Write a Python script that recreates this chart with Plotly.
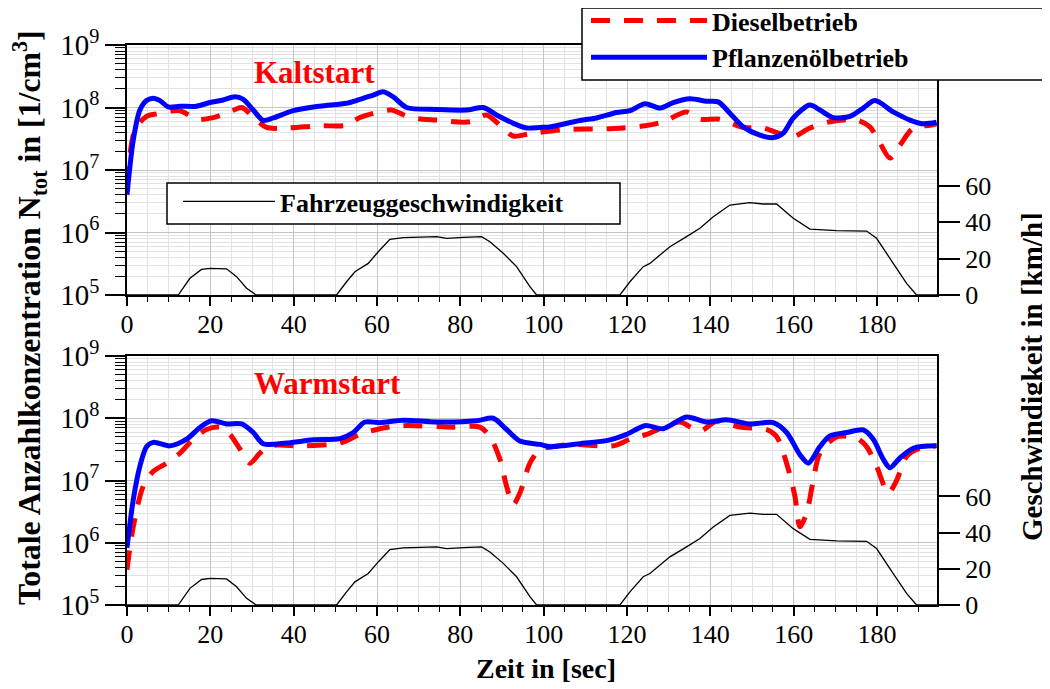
import plotly.graph_objects as go

# ---------------- data ----------------
# Kaltstart (cold start)
t_kalt_pfl = [0, 1.5, 3.1, 4.7, 6.3, 7.9, 9.9, 12.7, 16.7, 19.9, 23.1, 25.9, 27.9, 30.3, 32.7, 35.1,
              39.9, 46.3, 52.7, 55.9, 59.1, 61.5, 63.9, 67.1, 74.3, 81.5, 85.5, 88.7, 92.7, 95.9,
              99.1, 101.5, 108.7, 112.7, 117.5, 120.7, 124.3, 127.9, 131.1, 135.1, 139.1, 141.9,
              144.7, 147.9, 151.9, 155.1, 157.5, 159.9, 163.9, 166.3, 169.5, 173.5, 176.7, 179.5,
              183.9, 187.9, 191.1, 194.3]
n_kalt_pfl = [4.0e6, 3.0e7, 9.1e7, 1.29e8, 1.41e8, 1.29e8, 1.02e8, 1.05e8, 1.05e8, 1.2e8, 1.32e8,
              1.48e8, 1.35e8, 9.1e7, 6.2e7, 6.8e7, 8.9e7, 1.05e8, 1.17e8, 1.35e8, 1.58e8, 1.78e8,
              1.48e8, 1.0e8, 9.3e7, 9.1e7, 1.0e8, 7.6e7, 5.6e7, 4.7e7, 4.8e7, 4.9e7, 6.2e7, 6.8e7,
              8.3e7, 8.9e7, 1.15e8, 9.8e7, 1.2e8, 1.38e8, 1.26e8, 1.23e8, 8.1e7, 4.9e7, 3.6e7,
              3.3e7, 3.9e7, 6.8e7, 1.1e8, 9.1e7, 6.9e7, 7.2e7, 9.8e7, 1.29e8, 8.5e7, 6.3e7,
              5.5e7, 5.8e7]

t_kalt_dsl = [0, 1.9, 4.7, 7.1, 12.7, 16.7, 20.7, 24.7, 27.5, 30.3, 33.5, 38.3, 46.3, 52.7, 55.9,
              59.9, 63.5, 67.9, 74.3, 82.3, 86.3, 89.5, 92.7, 96.7, 104.7, 116.7, 124.3, 128.7,
              134.3, 137.5, 142.3, 147.9, 152.7, 156.7, 159.9, 163.9, 168.7, 175.1, 178.3, 180.7,
              183.1, 185.5, 188.7, 192.7, 194.3]
n_kalt_dsl = [5.6e6, 4.4e7, 7.2e7, 7.9e7, 8.9e7, 6.5e7, 6.9e7, 8.5e7, 1.0e8, 7.1e7, 4.8e7, 4.7e7,
              5.1e7, 5.2e7, 6.9e7, 8.3e7, 9.1e7, 6.9e7, 6.3e7, 5.9e7, 7.6e7, 5.2e7, 3.5e7, 3.8e7,
              4.4e7, 4.6e7, 5.1e7, 5.9e7, 8.5e7, 6.5e7, 6.5e7, 4.8e7, 4.7e7, 3.8e7, 3.4e7, 4.7e7,
              5.9e7, 6.3e7, 4.9e7, 2.7e7, 1.55e7, 2.5e7, 4.7e7, 5.2e7, 5.5e7]

# Warmstart (warm start)
t_warm_pfl = [0, 1.5, 3.1, 4.7, 6.3, 10.3, 14.3, 17.5, 20.3, 23.9, 27.5, 30.3, 32.7, 38.3, 44.7,
              51.1, 54.3, 57.1, 60.7, 66.3, 74.3, 83.9, 87.9, 91.1, 94.3, 99.1, 101.5, 108.7,
              115.9, 119.9, 124.3, 128.7, 134.3, 139.1, 143.9, 149.5, 155.1, 158.3, 161.5, 163.5,
              166.3, 168.7, 172.7, 176.7, 179.1, 181.5, 183.1, 185.5, 188.7, 194.3]
n_warm_pfl = [8.3e5, 4.9e6, 1.7e7, 3.5e7, 4.1e7, 3.6e7, 4.6e7, 7.1e7, 9.1e7, 8.1e7, 8.1e7, 5.9e7,
              3.9e7, 4.0e7, 4.5e7, 4.7e7, 5.9e7, 8.7e7, 8.5e7, 9.3e7, 8.7e7, 9.1e7, 1.0e8, 6.6e7,
              4.3e7, 3.8e7, 3.5e7, 3.9e7, 4.5e7, 5.5e7, 7.6e7, 6.8e7, 1.05e8, 8.7e7, 9.5e7, 8.1e7,
              8.5e7, 5.9e7, 2.6e7, 1.9e7, 3.5e7, 5.2e7, 5.9e7, 6.5e7, 4.6e7, 2.2e7, 1.6e7, 2.3e7,
              3.3e7, 3.6e7]

t_warm_dsl = [0, 1.5, 3.9, 6.3, 9.5, 12.7, 15.9, 19.1, 22.3, 24.7, 27.1, 29.5, 31.9, 34.3, 42.3,
              51.1, 55.9, 60.7, 66.3, 78.3, 84.7, 87.1, 89.5, 91.1, 92.7, 94.3, 96.7, 99.1, 100,
              106.3, 116.7, 120.7, 124.7, 128.7, 132.7, 137.5, 141.5, 147.1, 153.5, 155.9, 158.3,
              160.3, 161.5, 163.1, 164.7, 166.3, 170.3, 175.1, 177.5, 179.9, 182.7, 184.7, 187.1,
              190.3, 194.3]
n_warm_dsl = [3.7e5, 1.8e6, 8.1e6, 1.4e7, 1.9e7, 2.75e7, 4.6e7, 6.6e7, 7.2e7, 5.5e7, 3.2e7, 1.9e7,
              2.75e7, 3.6e7, 3.6e7, 4.0e7, 5.5e7, 6.8e7, 7.6e7, 7.2e7, 7.2e7, 5.1e7, 2.2e7, 8.1e6,
              4.1e6, 6.3e6, 1.9e7, 3.2e7, 3.3e7, 3.8e7, 3.6e7, 4.6e7, 5.5e7, 7.2e7, 8.7e7, 6.2e7,
              8.9e7, 7.2e7, 6.6e7, 5.1e7, 1.9e7, 5.6e6, 1.8e6, 3.0e6, 1.0e7, 2.75e7, 5.0e7, 4.8e7,
              3.5e7, 1.7e7, 6.3e6, 1.0e7, 2.45e7, 3.3e7, 3.6e7]

# Vehicle speed (km/h)
t_speed = [0, 12.3, 15.1, 17.9, 20, 23.9, 26.3, 28.7, 31, 50.3, 52.7, 54.7, 57.9, 60.3, 63.1, 66.3,
           74.3, 76.7, 80.7, 85.1, 87.1, 90.3, 93.5, 96.7, 98.3, 118.3, 120.7, 123.9, 125.5,
           130.3, 134.3, 137.5, 140.7, 144.7, 149.5, 152.7, 155.9, 159.9, 163.9, 170.3, 177.5,
           179.9, 183.9, 187.1, 189.5, 194.4]
v_speed = [0, 0, 9.2, 14.1, 14.7, 14.4, 10.1, 3.7, 0, 0, 7.3, 12.8, 17.4, 23.8, 30.6, 31.6, 32.1,
           31.2, 31.7, 32.1, 29.3, 23, 15.6, 4.6, 0, 0, 7.3, 15.6, 17.4, 26.6, 32.1, 36.7, 43.1,
           49.5, 50.8, 50.1, 50.1, 42.2, 36.3, 35.4, 35.2, 31.2, 17.4, 6.4, 0, 0]

speed_ticks = [0, 20, 40, 60]
x_ticks = [0, 20, 40, 60, 80, 100, 120, 140, 160, 180]
y_tickvals = [1e5, 1e6, 1e7, 1e8, 1e9]
y_ticktext = ["10<sup>5</sup>", "10<sup>6</sup>", "10<sup>7</sup>", "10<sup>8</sup>", "10<sup>9</sup>"]

name_dsl = "Dieselbetrieb"
name_pfl = "Pflanzenölbetrieb"
name_speed = "Fahrzeuggeschwindigkeit"

# ---------------- figure ----------------
FONT = "Liberation Serif, Times New Roman, serif"
RED = "#ff0000"
BLUE = "#0000ff"
W, H = 1050, 689
OFF = 8  # page body margin
# plot area in page pixels: left 127, right 937, top 45, bottom 605
L, T = 127 - OFF, 45 - OFF
R, B = W - (937 - OFF), H - (605 - OFF)
PW, PH = W - L - R, H - T - B


def px_x(p):
    return (p - OFF - L) / PW


def px_y(p):
    return (H - B - (p - OFF)) / PH


def bold(s):
    return "<b>" + s + "</b>"


fig = go.Figure()

dash = "19px,14px"
# top panel
fig.add_trace(go.Scatter(x=t_speed, y=v_speed, xaxis="x", yaxis="y2", mode="lines",
                         line=dict(color="black", width=1.3), name=bold(name_speed),
                         legend="legend2", showlegend=True))
fig.add_trace(go.Scatter(x=t_kalt_dsl, y=n_kalt_dsl, xaxis="x", yaxis="y", mode="lines",
                         line=dict(color=RED, width=5, dash=dash, shape="spline", smoothing=0.8),
                         name=bold(name_dsl), legendgroup="a"))
fig.add_trace(go.Scatter(x=t_kalt_pfl, y=n_kalt_pfl, xaxis="x", yaxis="y", mode="lines",
                         line=dict(color=BLUE, width=5, shape="spline", smoothing=0.8),
                         name=bold(name_pfl), legendgroup="b"))
# bottom panel
fig.add_trace(go.Scatter(x=t_speed, y=v_speed, xaxis="x2", yaxis="y4", mode="lines",
                         line=dict(color="black", width=1.3), name=bold(name_speed),
                         legend="legend2", showlegend=False))
fig.add_trace(go.Scatter(x=t_warm_dsl, y=n_warm_dsl, xaxis="x2", yaxis="y3", mode="lines",
                         line=dict(color=RED, width=5, dash=dash, shape="spline", smoothing=0.8),
                         name=bold(name_dsl), showlegend=False))
fig.add_trace(go.Scatter(x=t_warm_pfl, y=n_warm_pfl, xaxis="x2", yaxis="y3", mode="lines",
                         line=dict(color=BLUE, width=5, shape="spline", smoothing=0.8),
                         name=bold(name_pfl), showlegend=False))

top_dom = [px_y(295), 1.0]
bot_dom = [0.0, px_y(356)]
xr = [0, 194.4]
spd_range = [0, 60 * 250 / 109]

minor_log = [k * 10 ** e for e in range(5, 9) for k in range(2, 10)]

xaxis_common = dict(range=xr, tickvals=x_ticks, ticks="outside", ticklen=9, tickwidth=1.5,
                    tickcolor="black", showline=True, linecolor="black", linewidth=1.5,
                    mirror=True, showgrid=True, gridcolor="#c4c4c4", gridwidth=1,
                    zeroline=False, automargin=False, ticklabelstandoff=-4,
                    tickfont=dict(family=FONT, size=26, color="black"),
                    minor=dict(dtick=5, tick0=0, ticks="outside", ticklen=5, tickwidth=1.2,
                               tickcolor="black", showgrid=True, gridcolor="#e2e2e2"))
yaxis_common = dict(type="log", range=[5, 9], tickvals=y_tickvals, ticktext=y_ticktext,
                    ticks="outside", ticklen=20, tickwidth=1.5, tickcolor="black",
                    showline=True, linecolor="black", linewidth=1.5, mirror=True,
                    showgrid=True, gridcolor="#c4c4c4", zeroline=False, automargin=False,
                    tickfont=dict(family=FONT, size=29, color="black"),
                    minor=dict(tickmode="array", tickvals=minor_log, ticks="outside",
                               ticklen=10, tickwidth=1.2, tickcolor="black",
                               showgrid=True, gridcolor="#e2e2e2"))
spd_common = dict(range=spd_range, tickvals=speed_ticks, side="right", ticks="outside",
                  ticklen=22, tickwidth=1.5, tickcolor="black", showgrid=False,
                  zeroline=False, showline=False, automargin=False,
                  tickfont=dict(family=FONT, size=26, color="black"))

fig.update_layout(
    width=W, height=H,
    margin=dict(l=L, r=R, t=T, b=B, autoexpand=False),
    paper_bgcolor="white", plot_bgcolor="white",
    font=dict(family=FONT, color="black"),
    xaxis=dict(anchor="y", domain=[0, 1], **xaxis_common),
    yaxis=dict(anchor="x", domain=top_dom, **yaxis_common),
    yaxis2=dict(anchor="x", overlaying="y", **spd_common),
    xaxis2=dict(anchor="y3", domain=[0, 1], **xaxis_common),
    yaxis3=dict(anchor="x2", domain=bot_dom, **yaxis_common),
    yaxis4=dict(anchor="x2", overlaying="y3", **spd_common),
    legend=dict(x=px_x(586), y=px_y(-3), xanchor="left", yanchor="top",
                bgcolor="rgba(0,0,0,0)", borderwidth=0, itemwidth=116,
                tracegroupgap=0, traceorder="grouped",
                font=dict(family=FONT, size=26, color="black")),
    legend2=dict(x=px_x(178), y=px_y(178), xanchor="left", yanchor="top",
                 bgcolor="rgba(0,0,0,0)", borderwidth=0, itemwidth=92,
                 font=dict(family=FONT, size=26, color="black")),
    showlegend=True,
)

# legend frames
fig.add_shape(type="rect", xref="paper", yref="paper", x0=px_x(582), x1=px_x(1045),
              y0=px_y(80), y1=px_y(8), line=dict(color="black", width=1.5),
              fillcolor="white", layer="above")
fig.add_shape(type="rect", xref="paper", yref="paper", x0=px_x(167), x1=px_x(620),
              y0=px_y(224), y1=px_y(183), line=dict(color="black", width=1.5),
              fillcolor="white", layer="above")

ann = dict(xref="paper", yref="paper", showarrow=False, xanchor="center", yanchor="middle")
# panel labels
fig.add_annotation(text="<b>Kaltstart</b>", x=px_x(314), y=px_y(72),
                   font=dict(family=FONT, size=31, color=RED), **ann)
fig.add_annotation(text="<b>Warmstart</b>", x=px_x(327), y=px_y(383),
                   font=dict(family=FONT, size=31, color=RED), **ann)

# axis titles
fig.add_annotation(text="<b>Totale Anzahlkonzentration N<sub>tot</sub> in [1/cm<sup>3</sup>]</b>",
                   x=px_x(29), y=px_y(318), textangle=-90,
                   font=dict(family=FONT, size=31.8, color="black"), **ann)
fig.add_annotation(text="<b>Geschwindigkeit in [km/h]</b>", x=px_x(1032), y=px_y(377),
                   textangle=-90, font=dict(family=FONT, size=29, color="black"), **ann)
fig.add_annotation(text="<b>Zeit in [sec]</b>", x=px_x(546), y=px_y(668),
                   font=dict(family=FONT, size=28, color="black"), **ann)

fig.write_html("out.html")
